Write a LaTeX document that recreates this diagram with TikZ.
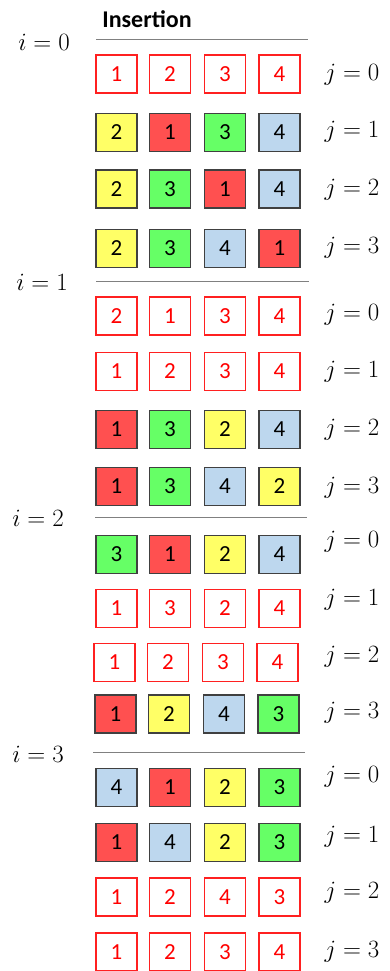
\documentclass[tikz,border=0pt]{standalone}
\usepackage{fontspec}
\newfontfamily\carlfont{Carlito}
\definecolor{c1}{HTML}{FF5050}
\definecolor{c2}{HTML}{FFFF66}
\definecolor{c3}{HTML}{66FF66}
\definecolor{c4}{HTML}{BDD7EE}
\definecolor{o1}{HTML}{FFFFFF}
\colorlet{o2}{o1}\colorlet{o3}{o1}\colorlet{o4}{o1}
\definecolor{ce}{HTML}{404040}
\definecolor{oe}{HTML}{FF2020}
\colorlet{ct}{black}
\definecolor{ot}{HTML}{FF0000}
\definecolor{sep}{HTML}{808080}
\begin{document}
\begin{tikzpicture}[x=1pt,y=-1pt,
  cell/.style={minimum width=41pt,minimum height=38pt,inner sep=0pt,line width=1.2pt,
    font=\carlfont\fontsize{23}{23}\selectfont},
  mlab/.style={font=\fontsize{24}{24}\selectfont},
  sepline/.style={draw=sep,line width=1pt}]
\useasboundingbox (0,0) rectangle (390,971);
\node[font=\carlfont\bfseries\fontsize{24}{24}\selectfont] (title) at (147,19) {Insertion};
% boxes
\foreach \r/\y/\dx/\o/\a/\b/\c/\d in {
  1/74/0/o/1/2/3/4, 2/132.5/0/c/2/1/3/4, 3/189/0/c/2/3/1/4, 4/248.5/0/c/2/3/4/1,
  5/316/0/o/2/1/3/4, 6/371.5/0/o/1/2/3/4, 7/429.5/0/c/1/3/2/4, 8/486.5/0/c/1/3/4/2,
  9/554.5/0/c/3/1/2/4, 10/608.5/0/o/1/3/2/4, 11/662.5/-2/o/1/2/3/4, 12/714/-1/c/1/2/4/3,
  13/787.5/0/c/4/1/2/3, 14/842.5/0/c/1/4/2/3, 15/897/0/o/1/2/4/3, 16/952/0/o/1/2/3/4}{
  \foreach \v [count=\k] in {\a,\b,\c,\d}{
    \pgfmathsetmacro{\xx}{\dx+(\k==1)*116.5+(\k==2)*170+(\k==3)*225+(\k==4)*279.5}
    \node[cell,draw=\o e,fill=\o\v,text=\o t] (b\r-\k) at (\xx,\y) {\v};
  }
}
% j labels
\foreach \r/\y/\j in {1/75/0,2/132/1,3/190/2,4/248/3,5/315/0,6/372/1,7/430/2,8/488/3,
  9/542/0,10/600/1,11/657/2,12/713/3,13/777/0,14/837/1,15/893/2,16/952/3}{
  \node[mlab] (j\r) at (352,\y) {$j=\j$};
}
% i labels and separator lines
\foreach \i/\x/\y/\ly/\la/\lb in {0/44/42/40/96/308,1/42/282/281/96/309,2/38/518/517.5/95/307,3/38/754/752/93/305}{
  \node[mlab] (i\i) at (\x,\y) {$i=\i$};
  \coordinate (s\i a) at (\la,\ly);
  \coordinate (s\i b) at (\lb,\ly);
  \draw[sepline] (s\i a) -- (s\i b);
}
\end{tikzpicture}
\end{document}
